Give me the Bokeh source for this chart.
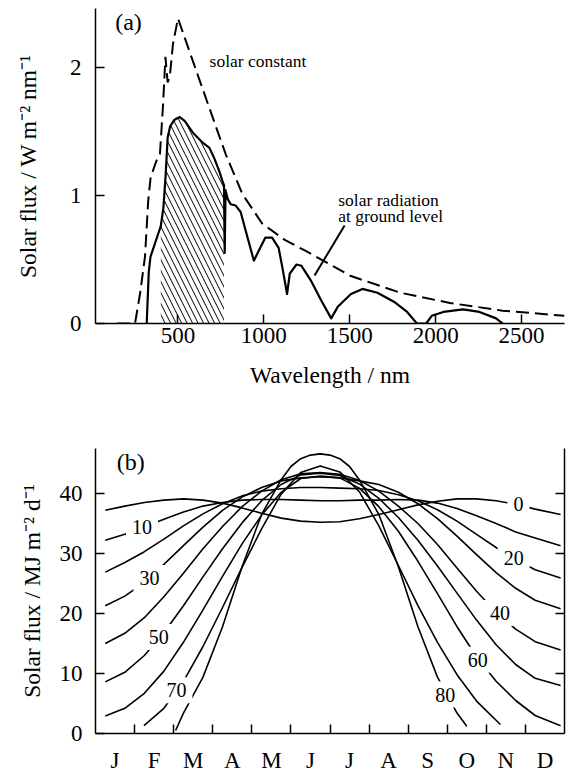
from bokeh.plotting import figure
from bokeh.models import FixedTicker, LinearAxis
from bokeh.layouts import column
from bokeh.embed import file_html
from bokeh.resources import INLINE
from bokeh.core.properties import value

FONT = "Liberation Serif"

# ---------------- Panel (a): solar spectrum ----------------
solar_wl = [145, 250, 279, 308, 327, 341, 375, 395, 413, 427, 440, 452, 471, 500,
            586, 683, 778, 875, 990, 1124, 1238, 1507, 1795, 2083, 2390, 2750]
solar_flux = [0, 0, 0.23, 0.52, 0.96, 1.14, 1.27, 1.32, 1.70, 2.08, 1.88, 1.92, 2.18, 2.38,
              2.05, 1.68, 1.32, 1.01, 0.78, 0.65, 0.57, 0.37, 0.24, 0.16, 0.10, 0.06]

ground_wl = [318, 330, 340, 360, 385, 400, 415, 428, 440, 455, 480, 510, 539, 586, 644, 683,
             711, 740, 759, 768, 772, 777, 790, 807, 836, 865, 903, 942, 971, 1009, 1048,
             1086, 1110, 1135, 1151, 1190, 1219, 1276, 1334, 1392, 1430, 1507, 1574, 1661,
             1757, 1834, 1891, 1945, 1977, 2045, 2159, 2255, 2352, 2390]
ground_flux = [0, 0.40, 0.52, 0.60, 0.70, 0.76, 0.90, 1.15, 1.45, 1.54, 1.59, 1.61, 1.58, 1.49,
               1.41, 1.37, 1.29, 1.19, 1.11, 1.08, 0.55, 1.04, 0.97, 0.93, 0.92, 0.87, 0.68,
               0.49, 0.57, 0.67, 0.67, 0.59, 0.42, 0.23, 0.39, 0.46, 0.45, 0.33, 0.18, 0.04,
               0.13, 0.23, 0.27, 0.24, 0.17, 0.09, 0, 0, 0.06, 0.09, 0.11, 0.09, 0.04, 0]

visible_band = (400, 770)
wl_ticks = [500, 1000, 1500, 2000, 2500]
flux_ticks = [0, 1, 2]

# ---------------- Panel (b): daily insolation by latitude ----------------
months = ["J", "F", "M", "A", "M", "J", "J", "A", "S", "O", "N", "D"]
G = [0.25, 0.75, 1.25, 1.75, 2.25, 2.75, 3.25, 3.75, 4.25, 4.75, 5.25, 5.75,
     6.25, 6.75, 7.25, 7.75, 8.25, 8.75, 9.25, 9.75, 10.25, 10.75, 11.25, 11.9]
lat0 = [37.2, 37.9, 38.5, 38.9, 39.1, 38.9, 38.4, 37.6, 36.7, 35.9, 35.4, 35.2,
        35.3, 35.8, 36.5, 37.3, 38.1, 38.7, 39.1, 39.1, 38.8, 38.2, 37.4, 36.5]
lat10 = [32.2, 33.2, 34.4, 35.7, 36.9, 37.9, 38.5, 38.9, 39.0, 39.0, 38.9, 38.8,
         38.8, 38.9, 38.9, 39.0, 38.9, 38.4, 37.5, 36.3, 35.0, 33.6, 32.6, 31.3]
lat20 = [26.9, 28.5, 30.3, 32.4, 34.6, 36.6, 38.3, 39.6, 40.4, 40.8, 41.0, 41.0,
         40.9, 40.8, 40.5, 39.8, 38.8, 37.3, 35.4, 33.2, 31.0, 29.0, 27.3, 25.9]
lat30 = [21.3, 22.9, 25.2, 28.2, 31.3, 34.4, 37.2, 39.4, 41.0, 42.1, 42.6, 42.8,
         42.6, 42.1, 41.5, 40.2, 38.3, 35.8, 32.9, 29.8, 26.8, 24.2, 22.2, 20.8]
lat40 = [15.0, 16.7, 19.3, 22.8, 26.7, 30.8, 34.5, 37.8, 40.4, 42.3, 43.3, 43.5,
         43.2, 42.2, 40.4, 37.9, 35.0, 31.5, 27.6, 23.7, 20.2, 17.4, 15.3, 13.9]
lat50 = [8.6, 10.2, 13.0, 16.8, 21.3, 26.1, 30.8, 35.1, 38.8, 41.5, 43.1, 43.4,
         43.0, 41.6, 39.2, 36.0, 32.2, 27.9, 23.4, 18.9, 14.8, 11.5, 9.2, 8.0]
lat60 = [2.9, 4.2, 6.7, 10.4, 15.2, 20.6, 26.2, 31.6, 36.4, 40.2, 42.5, 42.9,
         42.6, 40.9, 37.8, 33.7, 28.7, 23.3, 17.8, 12.8, 8.7, 5.5, 3.0, 1.3]
m70 = [1.24, 1.75, 2.25, 2.75, 3.25, 3.75, 4.25, 4.75, 5.25, 5.75, 6.25, 6.75,
       7.25, 7.75, 8.25, 8.75, 9.25, 9.75, 10.36]
lat70 = [1.3, 4.2, 8.7, 14.5, 21.0, 27.7, 34.1, 39.9, 43.5, 44.6, 43.6, 40.3,
         34.6, 28.0, 21.3, 15.2, 9.8, 5.4, 1.5]
m80 = [2.05, 2.25, 2.75, 3.25, 3.75, 4.25, 4.75, 5.0, 5.25, 5.5, 5.75, 6.0, 6.25,
       6.5, 6.75, 7.25, 7.75, 8.25, 8.75, 9.25, 9.5]
lat80 = [0.5, 3.4, 9.4, 17.8, 27.8, 36.5, 42.3, 44.5, 45.8, 46.4, 46.6, 46.4, 45.8,
         44.5, 42.3, 36.5, 27.8, 17.8, 9.4, 3.4, 1.2]

curves = [(G, lat0), (G, lat10), (G, lat20), (G, lat30), (G, lat40),
          (G, lat50), (G, lat60), (m70, lat70), (m80, lat80)]

label_text = ["0", "10", "20", "30", "40", "50", "60", "70", "80"]
label_x = [10.82, 1.19, 10.70, 1.38, 10.35, 1.62, 9.78, 2.07, 8.95]
label_y = [38.2, 34.5, 29.3, 25.9, 20.1, 16.1, 12.3, 7.2, 6.5]
flux_b_ticks = [0, 10, 20, 30, 40]


def style_axis(ax, tick_size="23px"):
    ax.axis_line_width = 1.5
    ax.major_tick_line_width = 1.5
    ax.major_tick_in = 9
    ax.major_tick_out = 0
    ax.minor_tick_line_color = None
    ax.major_label_text_font = FONT
    ax.major_label_text_font_size = tick_size
    ax.major_label_text_color = "black"
    ax.axis_label_text_font = FONT
    ax.axis_label_text_font_size = "23.5px"
    ax.axis_label_text_font_style = "normal"
    ax.axis_label_text_color = "black"


# ---------- figure (a) ----------
p1 = figure(width=566, height=400, x_range=(20, 2750), y_range=(0, 2.457),
            output_backend="svg", toolbar_location=None,
            min_border_left=92, min_border_right=0, min_border_top=8, min_border_bottom=77)
p1.grid.visible = False
p1.outline_line_color = None
p1.background_fill_color = "white"

xa = p1.xaxis[0]
style_axis(xa)
xa.ticker = FixedTicker(ticks=wl_ticks)
xa.major_label_standoff = 4
xa.axis_label = "Wavelength / nm"
xa.axis_label_standoff = 16

ya = p1.yaxis[0]
style_axis(ya)
ya.ticker = FixedTicker(ticks=flux_ticks)
ya.major_label_standoff = 14
ya.axis_label = "Solar flux / W m\u207b\u00b2 nm\u207b\u00b9"
ya.axis_label_standoff = 26

hatch_wl = [w for w in ground_wl if visible_band[0] <= w <= visible_band[1]]
hatch_flux = [f for w, f in zip(ground_wl, ground_flux) if visible_band[0] <= w <= visible_band[1]]
p1.varea(x=hatch_wl, y1=0, y2=hatch_flux, fill_color=None, fill_alpha=0,
         hatch_pattern="\\", hatch_color="black", hatch_scale=11, hatch_weight=1)
p1.line(solar_wl, solar_flux, line_color="black", line_width=2, line_dash="13 6")
p1.line(ground_wl, ground_flux, line_color="black", line_width=2.2, line_join="round")

p1.text(x=[212], y=[2.35], text=["(a)"], text_font=value(FONT), text_font_size="24px",
        text_align="center", text_baseline="middle", text_color="black")
p1.text(x=[684], y=[2.05], text=["solar constant"], text_font=value(FONT),
        text_font_size="17.5px", text_align="left", text_baseline="middle", text_color="black")
p1.text(x=[1433, 1433], y=[0.967, 0.835], text=["solar radiation", "at ground level"],
        text_font=value(FONT), text_font_size="17.5px", text_align="left",
        text_baseline="alphabetic", text_color="black")
p1.line(x=[1470, 1295], y=[0.764, 0.374], line_color="black", line_width=2)

# ---------- figure (b) ----------
p2 = figure(width=566, height=376, x_range=(0, 12), y_range=(0, 47.5),
            output_backend="svg", toolbar_location=None,
            min_border_left=95, min_border_right=2, min_border_top=48, min_border_bottom=43)
p2.grid.visible = False
p2.outline_line_color = None
p2.background_fill_color = "white"

xb = p2.xaxis[0]
style_axis(xb, "23px")
centers = [i + 0.5 for i in range(12)]
xb.ticker = FixedTicker(ticks=centers, minor_ticks=list(range(1, 12)))
xb.major_label_overrides = {c: m for c, m in zip(centers, months)}
xb.major_tick_line_color = None
xb.major_tick_in = 0
xb.minor_tick_line_color = "black"
xb.minor_tick_line_width = 1.5
xb.minor_tick_in = 9
xb.minor_tick_out = 0
xb.major_label_standoff = 14

yb = p2.yaxis[0]
style_axis(yb)
yb.ticker = FixedTicker(ticks=flux_b_ticks)
yb.major_label_standoff = 13
yb.axis_label = "Solar flux / MJ m\u207b\u00b2 d\u207b\u00b9"
yb.axis_label_standoff = 12

right_ticks = flux_b_ticks[1:]
rb = LinearAxis(ticker=FixedTicker(ticks=right_ticks))
style_axis(rb)
rb.major_label_overrides = {t: "" for t in right_ticks}
rb.major_label_text_color = None
rb.major_label_standoff = 0
p2.add_layout(rb, "right")

for xs, ys in curves:
    p2.line(xs, ys, line_color="black", line_width=1.6, line_join="round")

p2.text(x=label_x, y=label_y, text=label_text, text_font=value(FONT), text_font_size="20px",
        text_align="center", text_baseline="middle", text_color="black",
        background_fill_color="white", padding=6)
p2.text(x=[0.9], y=[45.2], text=["(b)"], text_font=value(FONT), text_font_size="24px",
        text_align="center", text_baseline="middle", text_color="black")

layout = column(p1, p2)
open("out.html", "w").write(file_html(layout, INLINE))
